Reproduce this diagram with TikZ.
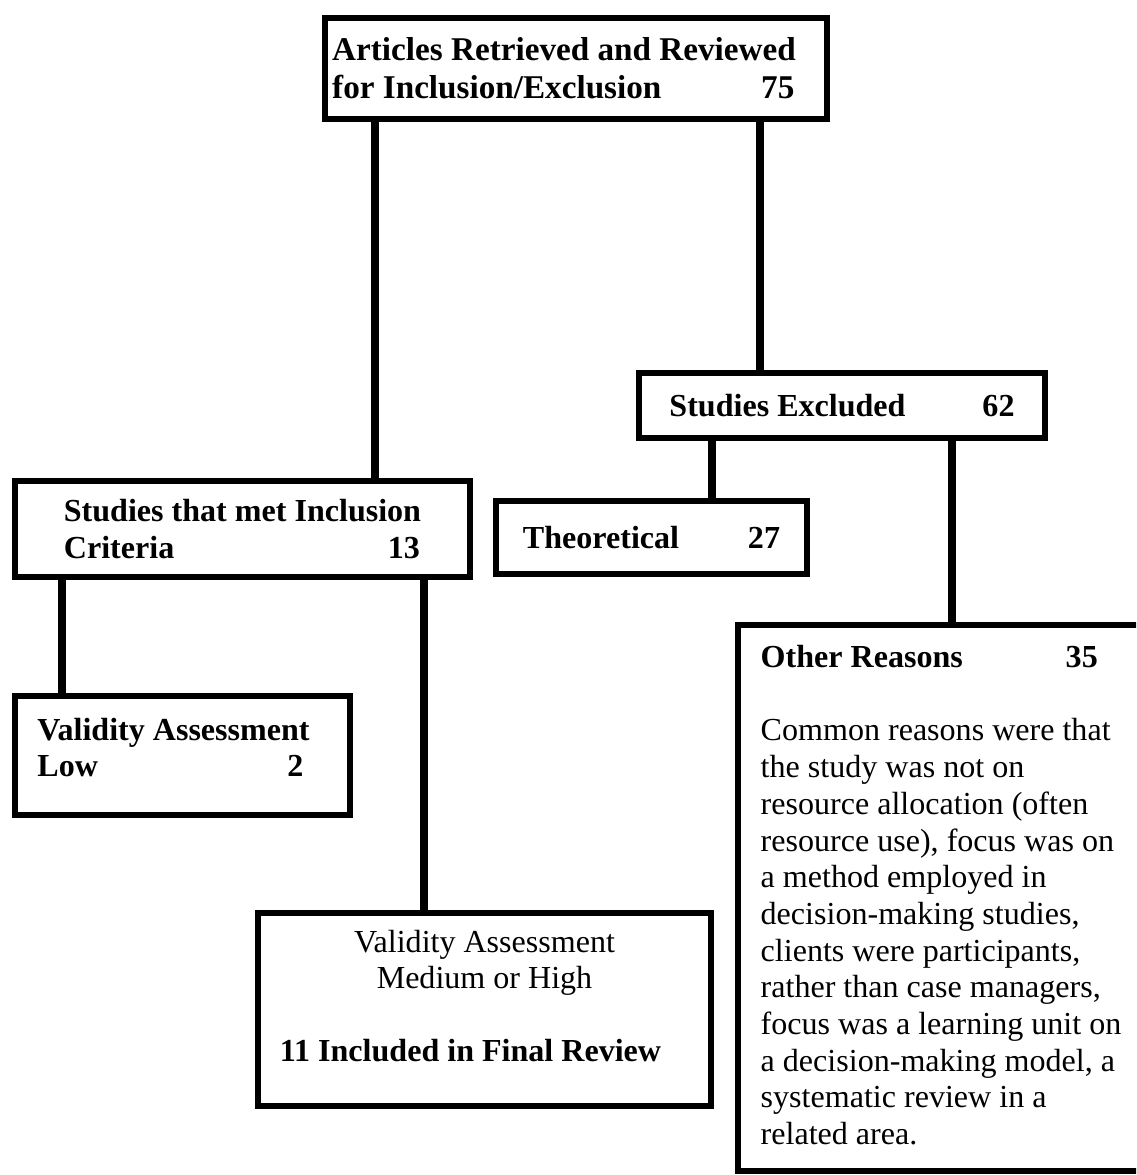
\documentclass[tikz,border=0pt]{standalone}
\usepackage{fontspec}
\setmainfont{Liberation Serif}

\begin{document}
\begin{tikzpicture}[line join=miter,x=0.025cm,y=-0.025cm,
  box/.style={draw,line width=4.6pt,rectangle,inner sep=0pt,align=left,font=\fontsize{22.8}{26}\selectfont},
  boldbox/.style={box,font=\fontsize{22.8}{26}\selectfont\bfseries},
  link/.style={line width=5.7pt}]

\useasboundingbox (0,0) rectangle (1136,1175);
\clip (0,0) rectangle (1136,1175);

\node[box,minimum width=12.55cm,minimum height=2.525cm,font=\fontsize{23.6}{27}\selectfont\bfseries] (top) at (576,68.5)
  {Articles Retrieved and Reviewed\hspace*{0.6cm}\\\makebox[11.55cm][s]{for Inclusion/Exclusion\hfill 75}};
\node[boldbox,minimum width=10.15cm,minimum height=1.625cm] (excl) at (842,405.5)
  {\makebox[8.625cm][s]{Studies Excluded\hfill 62}};
\node[boldbox,minimum width=11.375cm,minimum height=2.4cm] (incl) at (242.5,529)
  {Studies that met Inclusion\\\makebox[8.9cm][s]{Criteria\hfill 13}};
\node[boldbox,minimum width=7.775cm,minimum height=1.825cm] (theo) at (651.5,537.5)
  {\makebox[6.425cm][s]{Theoretical\hfill 27}};
\node[boldbox,minimum width=8.375cm,minimum height=2.975cm] (low) at (182.5,755.5)
  {Validity Assessment\hspace*{0.45cm}\\\makebox[6.65cm][s]{Low\hfill 2}\rule[-0.4cm]{0pt}{0.4cm}};
\node[box,align=center,minimum width=11.325cm,minimum height=4.825cm] (high) at (484.5,1009.5)
  {Validity Assessment\\Medium or High\\[26pt]\bfseries 11 Included in Final Review\hspace*{0.7cm}\rule[-0.675cm]{0pt}{0.675cm}};
\node[box,minimum width=10.15cm,minimum height=13.65cm,font=\fontsize{22.8}{26.1}\selectfont] (other) at (941,898)
  {\makebox[8.425cm][s]{\bfseries Other Reasons\hfill 35}\\[26.1pt]
   Common reasons were that\\
   the study was not on\\
   resource allocation (often\\
   resource use), focus was on\\
   a method employed in\\
   decision-making studies,\\
   clients were participants,\\
   rather than case managers,\\
   focus was a learning unit on\\
   a decision-making model, a\\
   systematic review in a\\
   related area.\rule[-0.15cm]{0pt}{0.15cm}};

\draw[link] (top.south -| 375,0) -- (incl.north -| 375,0);
\draw[link] (top.south -| 760,0) -- (excl.north -| 760,0);
\draw[link] (excl.south -| 712,0) -- (theo.north -| 712,0);
\draw[link] (excl.south -| 952,0) -- (other.north -| 952,0);
\draw[link] (incl.south -| 62,0) -- (low.north -| 62,0);
\draw[link] (incl.south -| 424,0) -- (high.north -| 424,0);
\end{tikzpicture}
\end{document}
